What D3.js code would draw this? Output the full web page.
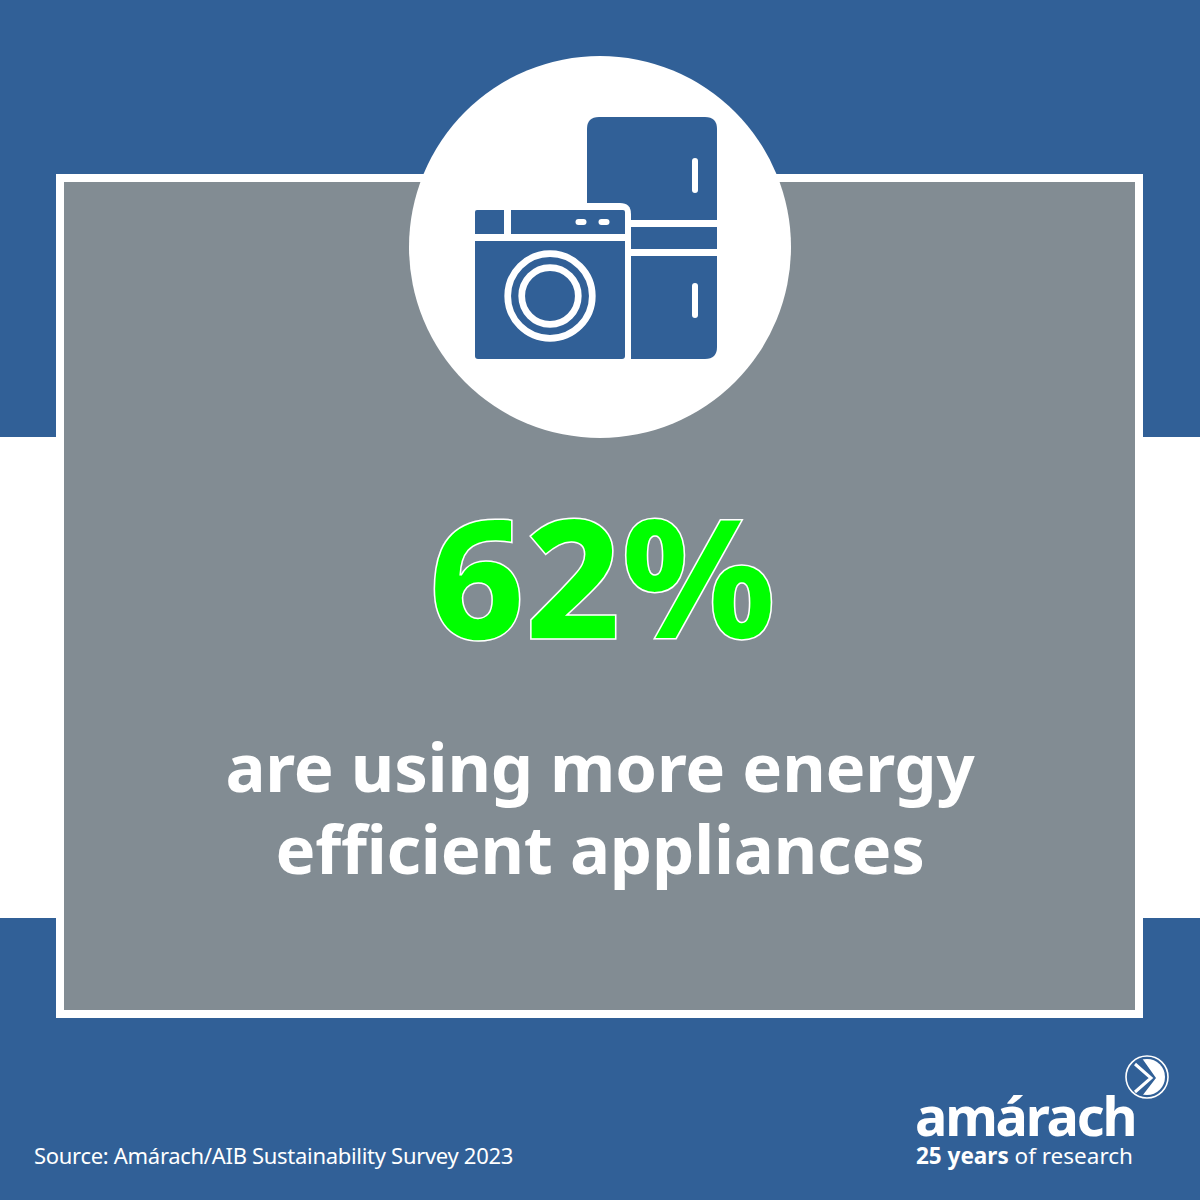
<!DOCTYPE html>
<html>
<head>
<meta charset="utf-8">
<script src="https://cdn.jsdelivr.net/npm/d3@7"></script>
<style>
  html, body { margin: 0; padding: 0; background: #fff; }
  svg { display: block; }
  text { font-family: "Noto Sans", "Open Sans", sans-serif; }
</style>
</head>
<body>
<div id="chart"></div>
<script>
"use strict";

const statValues = [62];
const captionLines = ["are using more energy", "efficient appliances"];
const sourceLines = ["Source: Amárach/AIB Sustainability Survey 2023"];

const blue = "#316097";
const grey = "#828c93";
const green = "#00ff00";

const svg = d3.select("#chart").append("svg")
    .attr("width", 1200)
    .attr("height", 1200);

/*-- Background ---------------------------------------------------------------*/
svg.append("rect").attr("width", 1200).attr("height", 1200).attr("fill", blue);
svg.append("rect").attr("y", 437).attr("width", 1200).attr("height", 481).attr("fill", "#fff");
svg.append("rect")
   .attr("x", 60).attr("y", 178)
   .attr("width", 1079).attr("height", 836)
   .attr("fill", grey)
   .attr("stroke", "#fff")
   .attr("stroke-width", 8);
svg.append("circle").attr("cx", 600).attr("cy", 247).attr("r", 191).attr("fill", "#fff");

/*-- Appliance icon -----------------------------------------------------------*/
const icon = svg.append("g");
icon.append("path")
    .attr("fill", blue)
    .attr("d", "M587 129 Q587 117 599 117 H705 Q717 117 717 129 V220 H587 Z");
icon.append("rect").attr("x", 631).attr("y", 227).attr("width", 86).attr("height", 22).attr("fill", blue);
icon.append("path")
    .attr("fill", blue)
    .attr("d", "M631 256 H717 V347 Q717 359 705 359 H631 Z");
// white outline the washer cuts out of the fridge
icon.append("path")
    .attr("fill", "#fff")
    .attr("d", "M580 203 H620 Q631 203 631 214 V225 H580 Z");
icon.append("path")
    .attr("fill", blue)
    .attr("d", "M477 210 H504 V234 H475 V212 Q475 210 477 210 Z");
icon.append("path")
    .attr("fill", blue)
    .attr("d", "M511 210 H623 Q625 210 625 212 V234 H511 Z");
icon.append("path")
    .attr("fill", blue)
    .attr("d", "M475 241 H625 V356 Q625 359 622 359 H478 Q475 359 475 356 Z");
icon.selectAll("rect.dot")
    .data([575.5, 598.5])
    .enter().append("rect")
    .attr("class", "dot")
    .attr("x", d => d).attr("y", 219)
    .attr("width", 11).attr("height", 6).attr("rx", 3)
    .attr("fill", "#fff");
icon.selectAll("rect.handle")
    .data([158, 283])
    .enter().append("rect")
    .attr("class", "handle")
    .attr("x", 692).attr("y", d => d)
    .attr("width", 6).attr("height", 35).attr("rx", 3)
    .attr("fill", "#fff");
icon.selectAll("circle.ring")
    .data([42.3, 28.3])
    .enter().append("circle")
    .attr("class", "ring")
    .attr("cx", 550).attr("cy", 296).attr("r", d => d)
    .attr("fill", "none")
    .attr("stroke", "#fff")
    .attr("stroke-width", 6.7);

/*-- Headline and caption -----------------------------------------------------*/
svg.selectAll("text.stat")
   .data(statValues)
   .enter().append("text")
   .attr("class", "stat")
   .attr("x", 602).attr("y", 639)
   .attr("text-anchor", "middle")
   .attr("font-size", 167)
   .attr("font-weight", 800)
   .attr("fill", green)
   .attr("stroke", "#fff")
   .attr("stroke-width", 1.5)
   .text(d => d + "%");

svg.selectAll("text.caption")
   .data(captionLines)
   .enter().append("text")
   .attr("class", "caption")
   .attr("x", 600)
   .attr("y", (d, i) => 792 + i * 82)
   .attr("text-anchor", "middle")
   .attr("font-size", 67)
   .attr("font-weight", 700)
   .attr("letter-spacing", -0.2)
   .attr("fill", "#fff")
   .text(d => d);

svg.selectAll("text.source")
   .data(sourceLines)
   .enter().append("text")
   .attr("class", "source")
   .attr("x", 34).attr("y", 1164)
   .attr("font-size", 22)
   .attr("letter-spacing", -0.3)
   .attr("fill", "#fff")
   .text(d => d);

/*-- Logo ---------------------------------------------------------------------*/
const logo = svg.append("g");
logo.append("clipPath")
    .attr("id", "logo-clip")
    .append("circle")
    .attr("cx", 1147).attr("cy", 1077).attr("r", 18);
logo.append("circle")
    .attr("cx", 1147).attr("cy", 1077).attr("r", 21)
    .attr("fill", "none").attr("stroke", "#fff").attr("stroke-width", 1.6);
logo.append("path")
    .attr("clip-path", "url(#logo-clip)")
    .attr("fill", "#fff")
    .attr("d", "M1139 1054 H1175 V1100 H1139 L1156 1078 Z");
logo.append("path")
    .attr("fill", "none")
    .attr("stroke", "#fff")
    .attr("stroke-width", 3)
    .attr("d", "M1135 1064 L1151 1078 L1135 1092");

logo.append("text")
    .attr("x", 915).attr("y", 1136)
    .attr("font-size", 54)
    .attr("font-weight", 700)
    .attr("letter-spacing", -2.2)
    .attr("fill", "#fff")
    .text("amárach");
const tagline = logo.append("text")
    .attr("x", 916).attr("y", 1164)
    .attr("font-size", 22.5)
    .attr("fill", "#fff");
tagline.append("tspan").attr("font-weight", 700).text("25 years");
tagline.append("tspan").text(" of research");
</script>
</body>
</html>
